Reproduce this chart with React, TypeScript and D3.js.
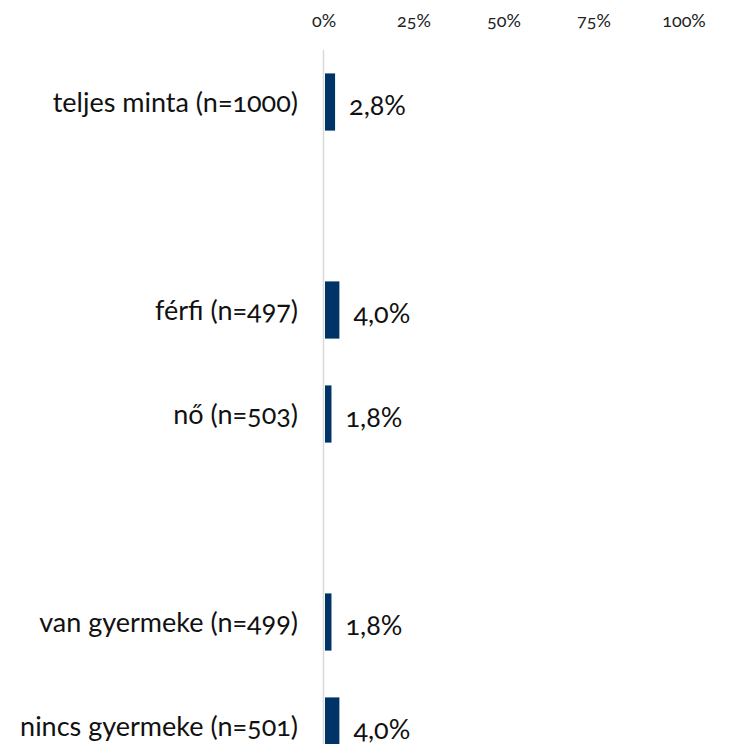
import * as d3 from "d3";
import { useEffect, useRef } from "react";

const CATEGORIES = [
  "teljes minta (n=1000)",
  "",
  "férfi (n=497)",
  "nő (n=503)",
  " ",
  "van gyermeke (n=499)",
  "nincs gyermeke (n=501)",
];
const VALUES = [2.8, null, 4.0, 1.8, null, 1.8, 4.0];
const TICKS = [0, 25, 50, 75, 100];

const WIDTH = 730;
const HEIGHT = 744;
const BAR_COLOR = "#003366";
const FONT = "Lato, 'Open Sans', sans-serif";

const fmt = (v: number) => v.toFixed(1).replace(".", ",") + "%";

const App = () => {
  const svgRef = useRef<SVGSVGElement>(null);

  useEffect(() => {
    if (!svgRef.current) return;
    const svg = d3.select(svgRef.current);
    svg.selectAll("*").remove();

    const x = d3.scaleLinear().domain([0, 100]).range([324, 684]);
    const y = d3
      .scaleBand<string>()
      .domain(CATEGORIES)
      .range([50, 50 + 7 * 104])
      .paddingInner(0.45)
      .paddingOuter(0.225);

    // top tick labels
    svg
      .append("g")
      .selectAll("text")
      .data(TICKS)
      .enter()
      .append("text")
      .attr("x", (d) => x(d))
      .attr("y", 27)
      .attr("text-anchor", "middle")
      .attr("font-size", 18)
      .attr("fill", "#222")
      .text((d) => d + "%");

    // zero line
    svg
      .append("line")
      .attr("x1", x(0) - 0.5)
      .attr("x2", x(0) - 0.5)
      .attr("y1", 50)
      .attr("y2", HEIGHT + 40)
      .attr("stroke", "#d9d9d9")
      .attr("stroke-width", 1.5);

    const rows = CATEGORIES.map((c, i) => ({ c, v: VALUES[i] })).filter(
      (d) => d.v !== null
    ) as { c: string; v: number }[];

    svg
      .append("g")
      .selectAll("rect")
      .data(rows)
      .enter()
      .append("rect")
      .attr("x", x(0) + 1)
      .attr("y", (d) => y(d.c)!)
      .attr("width", (d) => x(d.v) - x(0))
      .attr("height", y.bandwidth())
      .attr("fill", BAR_COLOR);

    // category labels
    svg
      .append("g")
      .selectAll("text")
      .data(rows)
      .enter()
      .append("text")
      .attr("x", 298)
      .attr("y", (d) => y(d.c)! + y.bandwidth() / 2)
      .attr("dy", "0.38em")
      .attr("text-anchor", "end")
      .attr("font-size", 27)
      .attr("fill", "#111")
      .text((d) => d.c);

    // value labels
    svg
      .append("g")
      .selectAll("text")
      .data(rows)
      .enter()
      .append("text")
      .attr("x", (d) => x(d.v) + 15)
      .attr("y", (d) => y(d.c)! + y.bandwidth() / 2 + 3)
      .attr("dy", "0.38em")
      .attr("font-size", 27)
      .attr("fill", "#111")
      .text((d) => fmt(d.v));
  }, []);

  return (
    <svg
      ref={svgRef}
      width={WIDTH}
      height={HEIGHT}
      style={{
        position: "absolute",
        left: 0,
        top: 0,
        fontFamily: FONT,
        fontVariantNumeric: "oldstyle-nums",
        background: "#fff",
      }}
    />
  );
};

export default App;
